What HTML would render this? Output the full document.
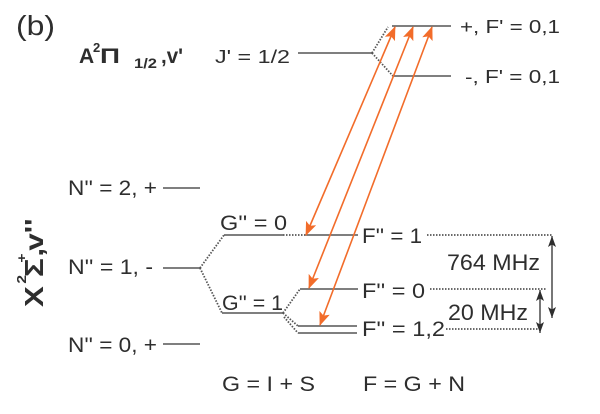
<!DOCTYPE html>
<html>
<head>
<meta charset="utf-8">
<style>
html,body{margin:0;padding:0;background:#fff;}
svg{display:block;}
text{font-family:"Liberation Sans",Arial,sans-serif;fill:#2e2e2e;}
</style>
</head>
<body>
<svg width="600" height="414" viewBox="0 0 600 414" xmlns="http://www.w3.org/2000/svg">
<defs>
  <marker id="oa" viewBox="0 0 14 11" refX="13" refY="5.5" markerWidth="14" markerHeight="11" markerUnits="userSpaceOnUse" orient="auto-start-reverse">
    <path d="M0,0 L14,5.5 L0,11 L3,5.5 Z" fill="#f26c2a"/>
  </marker>
  <marker id="ga" viewBox="0 0 11 8" refX="11" refY="4" markerWidth="11" markerHeight="8" markerUnits="userSpaceOnUse" orient="auto-start-reverse">
    <path d="M0,0 L11,4 L0,8 L2.5,4 Z" fill="#2e2e2e"/>
  </marker>
</defs>

<!-- (b) -->
<text x="16" y="35" font-size="28" textLength="39" lengthAdjust="spacingAndGlyphs">(b)</text>

<!-- A state label -->
<text x="79" y="63" font-size="21" font-weight="bold">A</text>
<text x="93" y="52" font-size="13" font-weight="bold">2</text>
<text x="100" y="63" font-size="21" font-weight="bold" textLength="20" lengthAdjust="spacingAndGlyphs">Π</text>
<text x="134" y="68" font-size="14" font-weight="bold" textLength="23" lengthAdjust="spacingAndGlyphs">1/2</text>
<text x="161" y="63" font-size="21" font-weight="bold" textLength="22" lengthAdjust="spacingAndGlyphs">,v'</text>

<text x="215" y="63" font-size="18" textLength="75" lengthAdjust="spacingAndGlyphs">J' = 1/2</text>
<text x="460" y="33" font-size="18" textLength="100" lengthAdjust="spacingAndGlyphs">+, F' = 0,1</text>
<text x="465" y="83" font-size="18" textLength="95" lengthAdjust="spacingAndGlyphs">-, F' = 0,1</text>

<!-- upper levels -->
<g stroke="#555" stroke-width="1.5" fill="none">
  <line x1="298" y1="53" x2="372" y2="53"/>
  <line x1="392" y1="26" x2="451" y2="26"/>
  <line x1="393" y1="76" x2="451" y2="76"/>
</g>
<g stroke="#555" stroke-width="1.8" fill="none" stroke-dasharray="1.5 1.5">
  <line x1="372" y1="53" x2="388" y2="27"/>
  <line x1="372" y1="53" x2="393" y2="76"/>
</g>

<!-- vertical X label -->
<g transform="translate(43,307) rotate(-90) scale(1.2,1)">
  <text x="0" y="0" font-size="26" font-weight="bold">X</text>
  <text x="19.5" y="-17" font-size="13" font-weight="bold">2</text>
  <text x="25" y="0" font-size="26" font-weight="bold">Σ</text>
  <text x="37" y="-17" font-size="13" font-weight="bold">+</text>
  <text x="42" y="0" font-size="26" font-weight="bold">,</text>
  <text x="47" y="0" font-size="26" font-weight="bold">v''</text>
</g>

<!-- N labels -->
<text x="68" y="195" font-size="21" textLength="89" lengthAdjust="spacingAndGlyphs">N'' = 2, +</text>
<text x="68" y="274" font-size="21" textLength="85" lengthAdjust="spacingAndGlyphs">N'' = 1, -</text>
<text x="68" y="352" font-size="21" textLength="89" lengthAdjust="spacingAndGlyphs">N'' = 0, +</text>

<text x="220" y="230" font-size="21" textLength="67" lengthAdjust="spacingAndGlyphs">G'' = 0</text>
<text x="222" y="310" font-size="21" textLength="61" lengthAdjust="spacingAndGlyphs">G'' = 1</text>

<text x="362" y="243" font-size="21" textLength="60" lengthAdjust="spacingAndGlyphs">F'' = 1</text>
<text x="362" y="298" font-size="21" textLength="63" lengthAdjust="spacingAndGlyphs">F'' = 0</text>
<text x="362" y="336" font-size="21" textLength="83" lengthAdjust="spacingAndGlyphs">F'' = 1,2</text>

<text x="447" y="270" font-size="22" textLength="93" lengthAdjust="spacingAndGlyphs">764 MHz</text>
<text x="448" y="320" font-size="22" textLength="80" lengthAdjust="spacingAndGlyphs">20 MHz</text>

<text x="222" y="391" font-size="21" textLength="93" lengthAdjust="spacingAndGlyphs">G = I + S</text>
<text x="363" y="391" font-size="21" textLength="102" lengthAdjust="spacingAndGlyphs">F = G + N</text>

<!-- lower levels -->
<g stroke="#555" stroke-width="1.5" fill="none">
  <line x1="163" y1="188" x2="200" y2="188"/>
  <line x1="163" y1="268" x2="200" y2="268"/>
  <line x1="163" y1="344" x2="200" y2="344"/>
  <line x1="224" y1="235" x2="283" y2="235"/>
  <line x1="305" y1="235" x2="358" y2="235"/>
  <line x1="222" y1="313" x2="283" y2="313"/>
  <line x1="300" y1="289" x2="358" y2="289"/>
  <line x1="298" y1="326" x2="357" y2="326"/>
  <line x1="298" y1="333" x2="357" y2="333"/>
</g>
<g stroke="#555" stroke-width="1.8" fill="none" stroke-dasharray="1.5 1.5">
  <line x1="200" y1="268" x2="224" y2="235"/>
  <line x1="200" y1="268" x2="222" y2="313"/>
  <line x1="283" y1="235" x2="305" y2="235"/>
  <line x1="283" y1="313" x2="300" y2="289"/>
  <line x1="283" y1="313" x2="298" y2="326"/>
  <line x1="284" y1="317" x2="298" y2="333"/>
  <line x1="427" y1="235" x2="552" y2="235"/>
  <line x1="430" y1="289" x2="547" y2="289"/>
  <line x1="446" y1="329" x2="538" y2="329"/>
</g>

<!-- double arrows -->
<g stroke="#2e2e2e" stroke-width="1.3" fill="none">
  <line x1="552" y1="236" x2="552" y2="318" marker-start="url(#ga)" marker-end="url(#ga)"/>
  <line x1="540" y1="290" x2="540" y2="333" marker-start="url(#ga)" marker-end="url(#ga)"/>
</g>

<!-- orange transitions -->
<g stroke="#f26c2a" stroke-width="1.6" fill="none">
  <line x1="395" y1="27" x2="306" y2="235" marker-start="url(#oa)" marker-end="url(#oa)"/>
  <line x1="413" y1="27" x2="309" y2="288" marker-start="url(#oa)" marker-end="url(#oa)"/>
  <line x1="432" y1="27" x2="320" y2="325" marker-start="url(#oa)" marker-end="url(#oa)"/>
</g>
</svg>
</body>
</html>
